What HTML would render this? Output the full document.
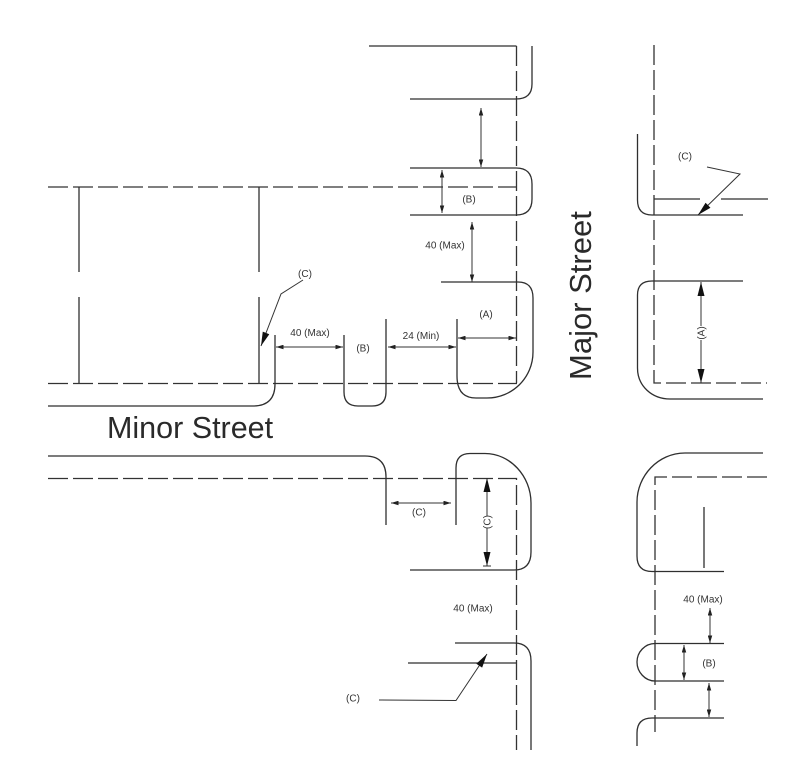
<!DOCTYPE html>
<html><head><meta charset="utf-8"><style>
html,body{margin:0;padding:0;background:#fff}
svg{display:block}
.l{fill:none;stroke:#2f2f2f;stroke-width:1.3}
.d{fill:none;stroke:#333;stroke-width:1.3;stroke-dasharray:20 5}
.a{fill:none;stroke:#333;stroke-width:1}
.t{font-family:"Liberation Sans",sans-serif;font-size:10px;fill:#333;text-anchor:middle}
.b{font-family:"Liberation Sans",sans-serif;font-size:30.5px;fill:#2a2a2a}
</style></head><body>
<svg width="806" height="776" viewBox="0 0 806 776" xmlns="http://www.w3.org/2000/svg">
<defs>
<marker id="s" viewBox="0 0 10 6" refX="10" refY="3" markerWidth="8" markerHeight="4.5" markerUnits="userSpaceOnUse" orient="auto-start-reverse"><path d="M0 0L10 3L0 6z" fill="#222"/></marker>
<marker id="h" viewBox="0 0 16 8" refX="16" refY="4" markerWidth="16" markerHeight="7" markerUnits="userSpaceOnUse" orient="auto-start-reverse"><path d="M0 0L16 4L0 8z" fill="#111"/></marker>
</defs>
<!-- centre / dashed lines -->
<path class="d" d="M516.5 46V383"/>
<path class="d" d="M48 187H516.5"/>
<path class="d" d="M48 383.500H517"/>
<path class="d" d="M48 478.500H516.500V750"/>
<path class="d" d="M654 45V383H767"/>
<path class="d" d="M767 477H655V732"/>
<!-- top-left block -->
<path class="l" d="M369 46H516.500"/>
<path class="l" d="M532 46V84Q532 99 516 99H410"/>
<path class="l" d="M410 168H516Q532 168 532 184V199Q532 215 516 215H410"/>
<path class="l" d="M441 282H518Q533 282 533 298V352C533 378 512 398 487 398H476Q457 398 457 376V319"/>
<path class="l" d="M275 335V384Q275 406 253 406H48"/>
<path class="l" d="M344 335V392Q344 406 358 406H372Q386 406 386 392V319"/>
<path class="l" d="M79 187V272M79 297V383M259 187V272M259 297V383"/>
<!-- lower-left block -->
<path class="l" d="M48 456H365Q386 456 386 477V525"/>
<path class="l" d="M456 525V468Q456 453.500 470 453.500H485C510 453.500 531 476 531 503V552Q531 570 514 570H410"/>
<path class="l" d="M455 643H514Q531 643 531 661V750"/>
<path class="l" d="M408 663H516"/>
<!-- right block -->
<path class="l" d="M637.500 134V200Q637.500 215 652 215H743"/>
<path class="l" d="M654 199H700M721 199H768"/>
<path class="l" d="M743 281H652Q637.500 281 637.500 295V368C637.500 386 652 399 670 399H763"/>
<path class="l" d="M763 453H685C658 453 637 476 637 502V556Q637 571.500 652 571.500H724"/>
<path class="l" d="M704 507V568"/>
<path class="l" d="M724 643.500H655C645 643.500 637 652 637 662S645 681 655 681H724"/>
<path class="l" d="M724 718H652Q637 718 637 733V746"/>
<!-- dimension arrows -->
<path class="a" marker-start="url(#s)" marker-end="url(#s)" d="M481 108V167"/>
<path class="a" marker-start="url(#s)" marker-end="url(#s)" d="M442 170V213"/>
<path class="a" marker-start="url(#s)" marker-end="url(#s)" d="M472 222V282"/>
<path class="a" marker-start="url(#s)" marker-end="url(#s)" d="M276 347H343"/>
<path class="a" marker-start="url(#s)" marker-end="url(#s)" d="M388 347H456"/>
<path class="a" marker-start="url(#s)" marker-end="url(#s)" d="M458 338H516"/>
<path class="a" marker-start="url(#s)" marker-end="url(#s)" d="M391 503H451"/>
<path class="a" marker-start="url(#h)" d="M487 478V516"/>
<path class="a" marker-end="url(#h)" d="M487 528V566"/>
<path class="a" d="M483 566H491"/>
<path class="a" marker-start="url(#h)" d="M701 282V326"/>
<path class="a" marker-end="url(#h)" d="M701 340V383"/>
<path class="a" marker-start="url(#s)" marker-end="url(#s)" d="M710 608V643"/>
<path class="a" marker-start="url(#s)" marker-end="url(#s)" d="M684 645V680"/>
<path class="a" marker-start="url(#s)" marker-end="url(#s)" d="M709 683V717"/>
<!-- leaders -->
<path class="a" marker-end="url(#h)" d="M303 280L281 294L261 346"/>
<path class="a" marker-end="url(#h)" d="M707 167L740 174L698 215"/>
<path class="a" marker-end="url(#h)" d="M379 700L456 700.500L487 654"/>
<!-- small labels -->
<text class="t" x="305" y="277">(C)</text>
<text class="t" x="469" y="202.500">(B)</text>
<text class="t" x="445" y="248.500">40 (Max)</text>
<text class="t" x="486" y="317.500">(A)</text>
<text class="t" x="310" y="336">40 (Max)</text>
<text class="t" x="363" y="351.500">(B)</text>
<text class="t" x="421" y="339">24 (Min)</text>
<text class="t" x="419" y="515.500">(C)</text>
<text class="t" x="473" y="611.500">40 (Max)</text>
<text class="t" x="353" y="701.500">(C)</text>
<text class="t" x="685" y="159.500">(C)</text>
<text class="t" x="703" y="602.500">40 (Max)</text>
<text class="t" x="709" y="666.500">(B)</text>
<text class="t" transform="translate(490.500,522) rotate(-90)">(C)</text>
<text class="t" transform="translate(704.500,333) rotate(-90)">(A)</text>
<!-- big labels -->
<text class="b" x="107" y="438">Minor Street</text>
<text class="b" style="font-size:31px" transform="translate(591,380) rotate(-90)">Major Street</text>
</svg>
</body></html>
